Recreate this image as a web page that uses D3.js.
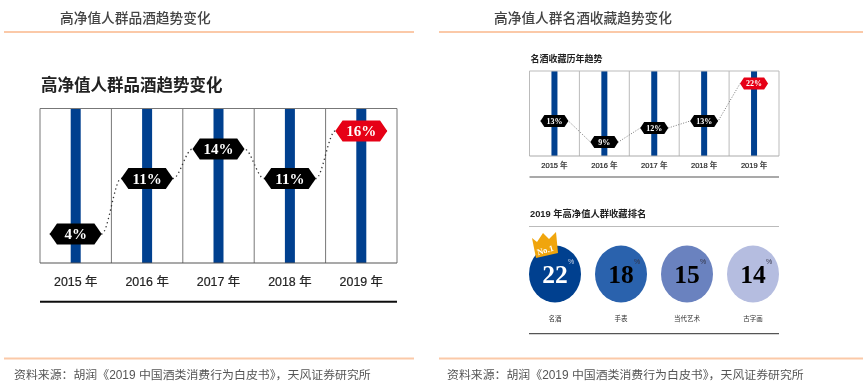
<!DOCTYPE html>
<html>
<head>
<meta charset="utf-8">
<script src="https://cdn.jsdelivr.net/npm/d3@7"></script>
<style>
  html, body { margin: 0; padding: 0; background: #fff; }
  svg { display: block; }
  text { font-family: "Liberation Sans", "Noto Sans CJK SC", sans-serif; }
  .val { font-family: "Liberation Serif", "DejaVu Serif", serif; font-weight: bold; }
</style>
</head>
<body>
<svg id="chart" width="864" height="389"></svg>
<script>
// data
const years = ["2015 年", "2016 年", "2017 年", "2018 年", "2019 年"];
const drinkValues = [4, 11, 14, 11, 16];
const collectValues = [13, 9, 12, 13, 22];
const rankNames = ["名酒", "手表", "当代艺术", "古字画"];
const rankValues = [22, 18, 15, 14];
const rankColors = ["#00418f", "#2a62ad", "#6a82bf", "#b5bde0"];
const source = "资料来源：胡润《2019 中国酒类消费行为白皮书》，天风证券研究所";

const svg = d3.select("#chart");
svg.append("defs").append("filter").attr("id", "soft")
  .attr("x", 0).attr("y", 0).attr("width", 1).attr("height", 1)
  .append("feGaussianBlur").attr("stdDeviation", 0.5);
const root = svg.append("g").attr("filter", "url(#soft)");

// header + footer of one panel
function frame(x1, x2, title, titleX, sourceX) {
  [32, 358.5].forEach(y => {
    root.append("line").attr("x1", x1).attr("x2", x2).attr("y1", y).attr("y2", y)
      .attr("stroke", "#fbc9a8").attr("stroke-width", 2);
  });
  root.append("text").attr("x", titleX).attr("y", 23)
    .attr("font-size", 13.7).attr("font-weight", 500).attr("fill", "#444").text(title);
  root.append("text").attr("x", sourceX).attr("y", 379)
    .attr("font-size", 11.9).attr("fill", "#555").text(source);
}

frame(4, 414, "高净值人群品酒趋势变化", 60, 14);
frame(439, 863, "高净值人群名酒收藏趋势变化", 494, 447);

// bars with hexagon labels and a dotted trend line
function trend(opt) {
  const g = root.append("g");
  const x = d3.scaleBand().domain(years).range([opt.left, opt.right]);
  const y = d3.scaleLinear().domain(opt.yDomain).range(opt.yRange);
  const cx = d => x(d) + x.bandwidth() / 2;

  g.append("text").attr("x", opt.left + 1).attr("y", opt.titleY)
    .attr("font-size", opt.titleSize).attr("font-weight", "bold").attr("fill", "#222")
    .text(opt.title);

  // blue columns
  g.selectAll(".column").data(years).enter().append("rect")
    .attr("class", "column")
    .attr("x", d => cx(d) - opt.barW / 2)
    .attr("y", opt.top)
    .attr("width", opt.barW)
    .attr("height", opt.bottom - opt.top)
    .attr("fill", "#00418f");

  // grid
  g.selectAll(".grid").data(d3.range(years.length + 1)).enter().append("line")
    .attr("class", "grid")
    .attr("x1", i => opt.left + i * x.step()).attr("x2", i => opt.left + i * x.step())
    .attr("y1", opt.top).attr("y2", opt.bottom)
    .attr("stroke", opt.gridColor).attr("stroke-width", 1);
  [opt.top, opt.bottom].forEach(v => {
    g.append("line").attr("x1", opt.left).attr("x2", opt.right).attr("y1", v).attr("y2", v)
      .attr("stroke", v === opt.top ? opt.gridColor : opt.baseColor).attr("stroke-width", 1);
  });

  // dotted line runs from tip to tip of the hexagons
  const tips = [];
  years.forEach((d, i) => {
    tips.push([cx(d) - opt.hexW / 2, y(opt.values[i])]);
    tips.push([cx(d) + opt.hexW / 2, y(opt.values[i])]);
  });
  const line = d3.line().curve(opt.curve);
  g.append("path").attr("d", line(tips)).attr("fill", "none")
    .attr("stroke", opt.dotColor).attr("stroke-width", opt.dotW).attr("stroke-dasharray", opt.dash);

  // hexagon labels
  const w = opt.hexW / 2, h = opt.hexH / 2, c = opt.hexW * 0.14;
  const hex = [[-w, 0], [-w + c, -h], [w - c, -h], [w, 0], [w - c, h], [-w + c, h]];
  const labels = g.selectAll(".hex").data(years).enter().append("g")
    .attr("class", "hex")
    .attr("transform", (d, i) => `translate(${cx(d)},${y(opt.values[i])})`);
  labels.append("polygon").attr("points", hex.map(p => p.join(",")).join(" "))
    .attr("fill", (d, i) => i === years.length - 1 ? "#e60012" : "#000");
  labels.append("text").attr("class", "val")
    .attr("text-anchor", "middle").attr("dy", "0.35em")
    .attr("font-size", opt.hexFont).attr("fill", "#fff")
    .text((d, i) => opt.values[i] + "%");

  // year axis
  const axis = g.append("g").attr("transform", `translate(0,${opt.bottom})`)
    .call(d3.axisBottom(x).tickSize(0).tickPadding(opt.tickPad));
  axis.select(".domain").remove();
  axis.selectAll("text").attr("font-size", opt.tickSize)
    .attr("font-family", '"Liberation Sans", "Noto Sans CJK SC", sans-serif')
    .attr("fill", "#222").attr("stroke", "#222").attr("stroke-width", 0.2);

  g.append("line").attr("x1", opt.left).attr("x2", opt.right)
    .attr("y1", opt.rule).attr("y2", opt.rule)
    .attr("stroke", opt.ruleColor).attr("stroke-width", opt.ruleW);
}

trend({
  title: "高净值人群品酒趋势变化", titleY: 91, titleSize: 16.5,
  values: drinkValues,
  yDomain: [4, 11, 14, 16], yRange: [234, 178.5, 149, 131],
  left: 40, right: 397, top: 108.5, bottom: 263,
  barW: 10, hexW: 52, hexH: 21, hexFont: 15,
  gridColor: "#777", baseColor: "#555",
  dotColor: "#333", dotW: 1.3, dash: "1.3 3", curve: d3.curveMonotoneX,
  tickSize: 12.4, tickPad: 14, rule: 301.7, ruleColor: "#111", ruleW: 2
});

trend({
  title: "名酒收藏历年趋势", titleY: 62, titleSize: 9,
  values: collectValues,
  yDomain: [9, 12, 13, 22], yRange: [142, 128, 121, 83.5],
  left: 529.5, right: 779, top: 71, bottom: 156,
  barW: 6, hexW: 28, hexH: 12, hexFont: 8,
  gridColor: "#bbb", baseColor: "#aaa",
  dotColor: "#777", dotW: 1, dash: "1 1.6", curve: d3.curveLinear,
  tickSize: 7.5, tickPad: 7, rule: 177, ruleColor: "#555", ruleW: 1.2
});

// ranking bubbles
const rank = root.append("g");
const rankX = d3.scalePoint().domain(rankNames).range([555, 753]);
const rankY = 274;

rank.append("text").attr("x", 530).attr("y", 217)
  .attr("font-size", 9.3).attr("font-weight", "bold").attr("fill", "#222")
  .text("2019 年高净值人群收藏排名");
rank.append("line").attr("x1", 529).attr("x2", 779).attr("y1", 226.5).attr("y2", 226.5)
  .attr("stroke", "#bbb").attr("stroke-width", 1.2);
rank.append("line").attr("x1", 529).attr("x2", 779).attr("y1", 333.7).attr("y2", 333.7)
  .attr("stroke", "#555").attr("stroke-width", 1.2);

rank.selectAll(".bubble").data(rankNames).enter().append("ellipse")
  .attr("class", "bubble")
  .attr("cx", d => rankX(d)).attr("cy", rankY).attr("rx", 26).attr("ry", 28.5)
  .attr("fill", (d, i) => rankColors[i]);

rank.selectAll(".num").data(rankNames).enter().append("text")
  .attr("class", "num val")
  .attr("x", d => rankX(d)).attr("y", rankY + 9)
  .attr("text-anchor", "middle").attr("font-size", 25.5)
  .attr("fill", (d, i) => i === 0 ? "#fff" : "#000")
  .text((d, i) => rankValues[i]);

rank.selectAll(".pct").data(rankNames).enter().append("text")
  .attr("class", "pct")
  .attr("x", d => rankX(d) + 16).attr("y", rankY - 10)
  .attr("text-anchor", "middle").attr("font-size", 7)
  .attr("fill", (d, i) => i === 0 ? "#cfd8ea" : "#334")
  .text("%");

rank.selectAll(".name").data(rankNames).enter().append("text")
  .attr("class", "name")
  .attr("x", d => rankX(d)).attr("y", 321)
  .attr("text-anchor", "middle").attr("font-size", 6.5).attr("fill", "#333")
  .text(d => d);

// crown on the first bubble
const crown = rank.append("g")
  .attr("transform", `translate(${rankX(rankNames[0])},${rankY})`);
crown.append("polygon")
  .attr("points", "-23,-36 -18,-32 -12,-41 -6,-35 1,-42 3,-21 -19,-16")
  .attr("fill", "#f0a50a");
crown.append("text").attr("class", "val")
  .attr("text-anchor", "middle")
  .attr("transform", "translate(-9,-21) rotate(-16)")
  .attr("font-size", 8.5).attr("fill", "#fff").text("No.1");
</script>
</body>
</html>
